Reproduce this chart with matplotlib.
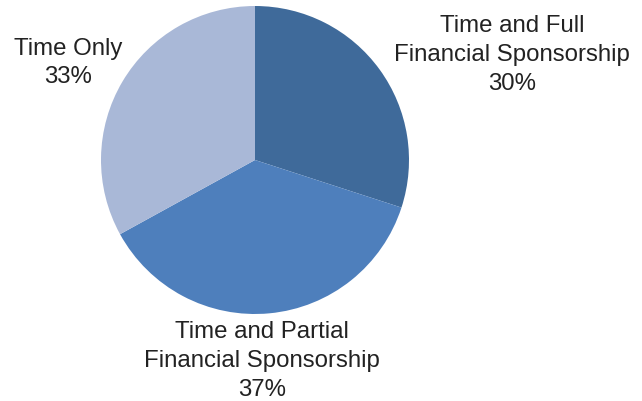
import matplotlib.pyplot as plt

labels = ['Time and Full\nFinancial Sponsorship', 'Time and Partial\nFinancial Sponsorship', 'Time Only']
shares = [30, 37, 33]
colors = ['#3F6A9A', '#4E7FBC', '#A9B8D7']

plt.rcParams['font.family'] = ['Liberation Sans', 'DejaVu Sans']

fig = plt.figure(figsize=(6.42, 4.02), dpi=100)
ax = fig.add_axes([0, 0, 1, 1])

H = 402
ax.pie(shares, colors=colors, startangle=90, counterclock=False,
       center=(255, H - 161), radius=154, frame=True)
ax.set_xlim(0, 642)
ax.set_ylim(0, 402)
ax.set_aspect('equal')
ax.axis('off')

# label positions (pixel centres of text blocks)
label_pos = [(512, 55), (262, 361), (68, 63)]
for lab, val, (x, y) in zip(labels, shares, label_pos):
    ax.text(x, H - y, f'{lab}\n{val}%', ha='center', va='center',
            fontsize=17.3, color='#222222', linespacing=1.41)

fig.savefig('out.png', dpi=100)
